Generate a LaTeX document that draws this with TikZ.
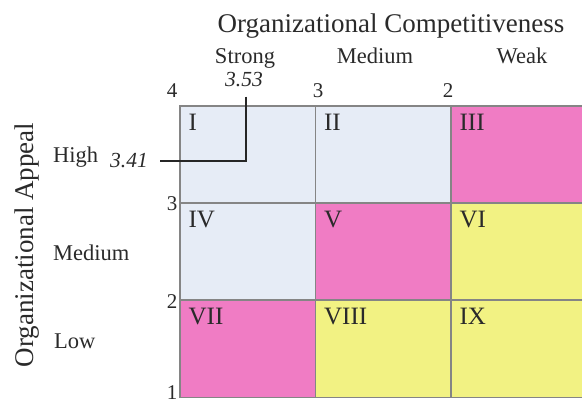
\documentclass[tikz,border=0pt]{standalone}
\usepackage{fontspec}
\setmainfont{Liberation Serif}
\usepackage{tikz}
\usetikzlibrary{positioning}

\definecolor{lowc}{HTML}{E6ECF6}
\definecolor{midc}{HTML}{F07CC4}
\definecolor{highc}{HTML}{F2F283}
\definecolor{gridc}{HTML}{858585}
\definecolor{textc}{HTML}{2A2A2A}

\begin{document}
\begin{tikzpicture}[
    x=1pt, y=-1pt,
    cell/.style={
        rectangle,
        draw=gridc,
        line width=1.1pt,
        minimum width=136pt,
        minimum height=97pt,
        inner sep=0pt
    },
    numeral/.style={
        text=textc,
        inner sep=0pt,
        anchor=base west,
        font=\fontsize{25}{28}\selectfont
    },
    axistitle/.style={
        text=textc,
        inner sep=0pt,
        font=\fontsize{27}{30}\selectfont
    },
    level/.style={
        text=textc,
        inner sep=0pt,
        font=\fontsize{22.5}{26}\selectfont
    },
    tick/.style={
        text=textc,
        inner sep=0pt,
        anchor=base,
        font=\fontsize{21}{24}\selectfont
    },
    score/.style={
        text=textc,
        inner sep=0pt,
        font=\fontsize{21.5}{24}\itshape
    },
    marker/.style={draw=black!85, line width=1.2pt}
]
\clip (0,0) rectangle (582,402);

% the nine cells
\node[cell, fill=lowc]  (c1) at (248,154.5) {};
\node[cell, fill=lowc]  (c2) at (383.5,154.5) {};
\node[cell, fill=midc]  (c3) at (519,154.5) {};
\node[cell, fill=lowc]  (c4) at (248,251.5) {};
\node[cell, fill=midc]  (c5) at (383.5,251.5) {};
\node[cell, fill=highc] (c6) at (519,251.5) {};
\node[cell, fill=midc]  (c7) at (248,349) {};
\node[cell, fill=highc] (c8) at (383.5,349) {};
\node[cell, fill=highc] (c9) at (519,349) {};

\node[numeral] (n1) at ([xshift=9pt,yshift=-25pt]c1.north west) {I};
\node[numeral] (n2) at ([xshift=9pt,yshift=-25pt]c2.north west) {II};
\node[numeral] (n3) at ([xshift=9pt,yshift=-25pt]c3.north west) {III};
\node[numeral] (n4) at ([xshift=9pt,yshift=-25pt]c4.north west) {IV};
\node[numeral] (n5) at ([xshift=9pt,yshift=-25pt]c5.north west) {V};
\node[numeral] (n6) at ([xshift=9pt,yshift=-25pt]c6.north west) {VI};
\node[numeral] (n7) at ([xshift=9pt,yshift=-25pt]c7.north west) {VII};
\node[numeral] (n8) at ([xshift=9pt,yshift=-25pt]c8.north west) {VIII};
\node[numeral] (n9) at ([xshift=9pt,yshift=-25pt]c9.north west) {IX};

% axis titles and levels
\node[axistitle, anchor=base] (comp) at (391,32) {Organizational Competitiveness};
\node[axistitle, rotate=90] (appeal) at (27,245) {Organizational Appeal};

\node[level, anchor=base] (strong) at (245,63) {Strong};
\node[level, anchor=base] (cmed) at (375,63) {Medium};
\node[level, anchor=base] (weak) at (522,63) {Weak};

\node[level, anchor=base west] (high) at (53,162) {High};
\node[level, anchor=base west] (amed) at (53,260) {Medium};
\node[level, anchor=base west] (low) at (54,348) {Low};

% scale ticks
\node[tick] (t4) at (172,97) {4};
\node[tick] (t3) at (318,97) {3};
\node[tick] (t2) at (448,97) {2};
\node[tick] (r3) at (172,210) {3};
\node[tick] (r2) at (172,308) {2};
\node[tick] (r1) at (172,399) {1};

% position of the organisation
\node[score, anchor=base] (v53) at (244,86) {3.53};
\node[score, anchor=base east] (v41) at (148,167) {3.41};
\coordinate (vtop) at (246,96.5);
\coordinate (hleft) at (160,161);
\coordinate (pos) at (246,161);
\draw[marker] (vtop) -- (pos) -- (hleft);
\end{tikzpicture}
\end{document}
